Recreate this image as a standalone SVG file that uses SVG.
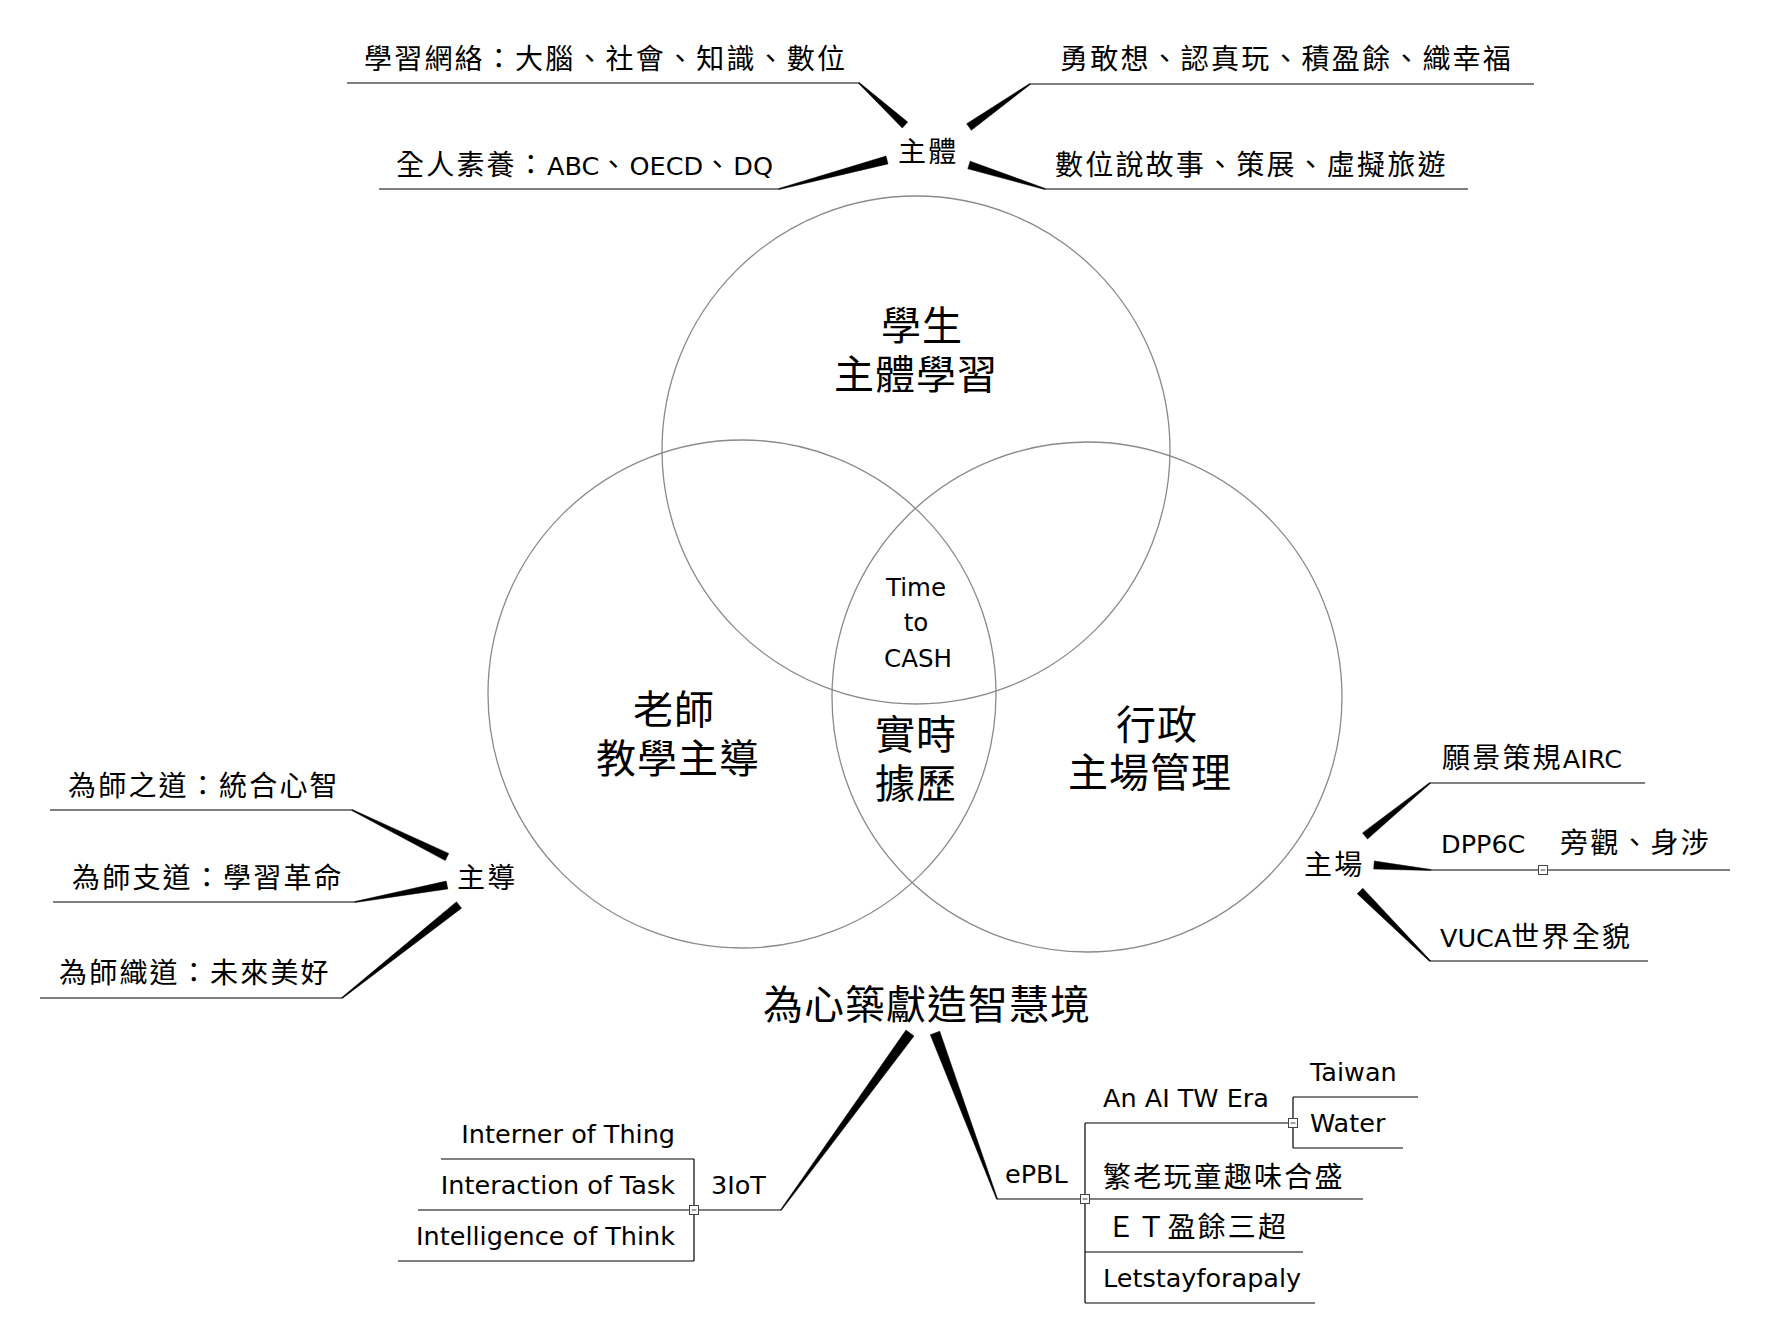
<svg xmlns="http://www.w3.org/2000/svg" width="1784" height="1338" viewBox="0 0 1784 1338">
<style>
.cjk{font-family:"Noto Sans CJK TC","Noto Sans CJK SC",sans-serif;font-size:28px;letter-spacing:2.2px;fill:#000}
.big{font-family:"Noto Sans CJK TC","Noto Sans CJK SC",sans-serif;font-size:40px;letter-spacing:1px;fill:#000;text-anchor:middle}
.lat{font-family:"DejaVu Sans","Noto Sans CJK TC",sans-serif;font-size:25.5px;fill:#000}
.lt{font-family:"DejaVu Sans",sans-serif;font-size:25.5px;letter-spacing:0}
.ctr{font-family:"DejaVu Sans",sans-serif;font-size:24.5px;fill:#000;text-anchor:middle}
.end{text-anchor:end}
.circ{fill:none;stroke:#8a8a8a;stroke-width:1.3}
.ln{stroke:#000;stroke-width:1.2;fill:none}
.tp{fill:#000;stroke:#000;stroke-width:0.5}
.box{fill:#fff;stroke:#444;stroke-width:1}
.mn{stroke:#444;stroke-width:1}
</style>
<defs>
<g id="col"><rect class="box" x="-4.5" y="-4.5" width="9" height="9"/><line class="mn" x1="-2.5" y1="0" x2="2.5" y2="0"/></g>
</defs>
<rect width="1784" height="1338" fill="#fff"/>

<g id="venn">
<circle id="c-student" class="circ" cx="916" cy="450" r="254"/>
<circle id="c-teacher" class="circ" cx="742" cy="694" r="254"/>
<circle id="c-admin" class="circ" cx="1087" cy="697" r="255"/>
</g>

<g id="connectors">
<!-- 主體 -->
<polygon class="tp" points="858.7,83.4 859.3,82.6 907.7,122 902.3,128"/>
<line class="ln" x1="347" y1="83" x2="859" y2="83"/>
<polygon class="tp" points="778.9,188.5 886,156.1 888,163.9 779.1,189.5"/>
<line class="ln" x1="379" y1="189" x2="779" y2="189"/>
<polygon class="tp" points="1029.7,83.6 966.7,123.7 971.3,130.3 1030.3,84.4"/>
<line class="ln" x1="1030" y1="84" x2="1534" y2="84"/>
<polygon class="tp" points="1045.2,188.5 970.2,161.2 967.8,168.8 1044.8,189.5"/>
<line class="ln" x1="1045" y1="189" x2="1468" y2="189"/>
<!-- 主導 -->
<polygon class="tp" points="351.8,810.5 445.3,860.6 448.7,853.4 352.2,809.5"/>
<line class="ln" x1="50" y1="810" x2="352" y2="810"/>
<polygon class="tp" points="354.9,901.5 446.2,881.1 447.8,888.9 355.1,902.5"/>
<line class="ln" x1="53" y1="902" x2="355" y2="902"/>
<polygon class="tp" points="341.7,997.6 456.5,901.8 461.5,908.2 342.3,998.4"/>
<line class="ln" x1="40" y1="998" x2="342" y2="998"/>
<!-- 主場 -->
<polygon class="tp" points="1429.7,782.6 1362.5,832.9 1367.5,839.1 1430.3,783.4"/>
<line class="ln" x1="1430" y1="783" x2="1645" y2="783"/>
<polygon class="tp" points="1431,869.5 1374.3,861 1373.7,869 1431,870.5"/>
<line class="ln" x1="1431" y1="870" x2="1730" y2="870"/>
<polygon class="tp" points="1430.4,960.6 1362.8,888.2 1357.2,893.8 1429.6,961.4"/>
<line class="ln" x1="1430" y1="961" x2="1648" y2="961"/>
<!-- 為心築獻造智慧境 -->
<polygon class="tp" points="780.6,1209.7 906,1030 914,1036 781.4,1210.3"/>
<polygon class="tp" points="997.5,1198.8 939.7,1031.2 930.3,1034.8 996.5,1199.2"/>
<!-- 3IoT -->
<line class="ln" x1="694" y1="1210" x2="781" y2="1210"/>
<line class="ln" x1="694" y1="1159" x2="694" y2="1261"/>
<line class="ln" x1="441" y1="1159" x2="694" y2="1159"/>
<line class="ln" x1="418" y1="1210" x2="694" y2="1210"/>
<line class="ln" x1="398" y1="1261" x2="694" y2="1261"/>
<!-- ePBL -->
<line class="ln" x1="997" y1="1199" x2="1085" y2="1199"/>
<line class="ln" x1="1085" y1="1123" x2="1085" y2="1303"/>
<line class="ln" x1="1085" y1="1123" x2="1292" y2="1123"/>
<line class="ln" x1="1085" y1="1199" x2="1363" y2="1199"/>
<line class="ln" x1="1085" y1="1252" x2="1303" y2="1252"/>
<line class="ln" x1="1085" y1="1303" x2="1315" y2="1303"/>
<line class="ln" x1="1293" y1="1097" x2="1293" y2="1148"/>
<line class="ln" x1="1293" y1="1097" x2="1418" y2="1097"/>
<line class="ln" x1="1293" y1="1148" x2="1403" y2="1148"/>
<use href="#col" x="694" y="1210"/>
<use href="#col" x="1085" y="1199"/>
<use href="#col" x="1293" y="1123"/>
<use href="#col" x="1543" y="870"/>
</g>

<g id="venn-labels">
<g id="n-student"><text class="big"><tspan x="922" y="340">學生</tspan><tspan x="916" y="389">主體學習</tspan></text></g>
<g id="n-teacher"><text class="big"><tspan x="674" y="724">老師</tspan><tspan x="678" y="773">教學主導</tspan></text></g>
<g id="n-admin"><text class="big"><tspan x="1157" y="739">行政</tspan><tspan x="1150" y="787">主場管理</tspan></text></g>
<g id="n-center"><text class="ctr"><tspan x="916" y="596">Time</tspan><tspan x="916" y="631">to</tspan><tspan x="918" y="667">CASH</tspan></text></g>
<g id="n-realtime"><text class="big"><tspan x="916" y="749">實時</tspan><tspan x="916" y="798">據歷</tspan></text></g>
</g>

<g id="n-zhuti"><text class="cjk" x="898" y="162">主體</text></g>
<g id="n-t1"><text class="cjk" x="364" y="69">學習網絡：大腦、社會、知識、數位</text></g>
<g id="n-t2"><text class="cjk" x="396" y="175">全人素養：<tspan class="lt">ABC</tspan>、<tspan class="lt">OECD</tspan>、<tspan class="lt">DQ</tspan></text></g>
<g id="n-t3"><text class="cjk" x="1060" y="69">勇敢想、認真玩、積盈餘、織幸福</text></g>
<g id="n-t4"><text class="cjk" x="1055" y="175">數位說故事、策展、虛擬旅遊</text></g>

<g id="n-zhudao"><text class="cjk" x="457" y="888">主導</text></g>
<g id="n-l1"><text class="cjk" x="68" y="796">為師之道：統合心智</text></g>
<g id="n-l2"><text class="cjk" x="72" y="888">為師支道：學習革命</text></g>
<g id="n-l3"><text class="cjk" x="59" y="983">為師織道：未來美好</text></g>

<g id="n-zhuchang"><text class="cjk" x="1304" y="875">主場</text></g>
<g id="n-r1"><text class="cjk" x="1442" y="768">願景策規<tspan class="lt">AIRC</tspan></text></g>
<g id="n-r2"><text class="lat" x="1441" y="853">DPP6C</text></g>
<g id="n-r2a"><text class="cjk" x="1560" y="853">旁觀、身涉</text></g>
<g id="n-r3"><text class="cjk" x="1440" y="947"><tspan class="lt">VUCA</tspan>世界全貌</text></g>

<g id="n-root"><text class="big" x="927" y="1019">為心築獻造智慧境</text></g>

<g id="n-3iot"><text class="lat" x="711" y="1194">3IoT</text></g>
<g id="n-i1"><text class="lat end" x="675" y="1143">Interner of Thing</text></g>
<g id="n-i2"><text class="lat end" x="675" y="1194">Interaction of Task</text></g>
<g id="n-i3"><text class="lat end" x="675" y="1245">Intelligence of Think</text></g>

<g id="n-epbl"><text class="lat" x="1005" y="1183">ePBL</text></g>
<g id="n-e1"><text class="lat" x="1103" y="1107">An AI TW Era</text></g>
<g id="n-e1a"><text class="lat" x="1310" y="1081">Taiwan</text></g>
<g id="n-e1b"><text class="lat" x="1310" y="1132">Water</text></g>
<g id="n-e2"><text class="cjk" x="1103" y="1187">繁老玩童趣味合盛</text></g>
<g id="n-e3"><text class="cjk" x="1107" y="1237">ＥＴ盈餘三超</text></g>
<g id="n-e4"><text class="lat" x="1103" y="1287">Letstayforapaly</text></g>
</svg>
